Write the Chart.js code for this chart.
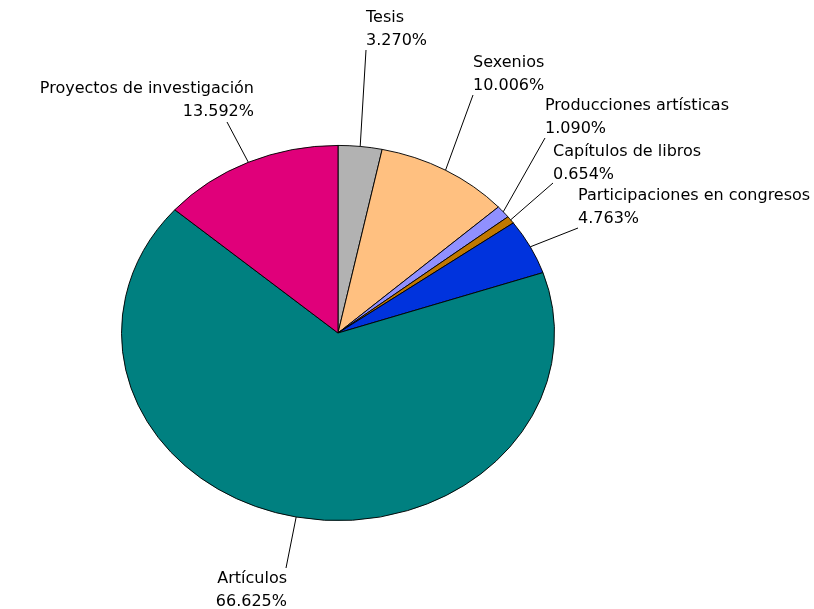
<html>
<head>
  <meta charset="utf-8">
  <title>Producción</title>
  <script src="https://cdn.jsdelivr.net/npm/chart.js@4/dist/chart.umd.min.js"></script>
  <style>
    body{ margin:0; background:#fff; }
  </style>
</head>
<body>
  <canvas id="pie-chart" width="814" height="609"></canvas>
  <script>
    // data, clockwise from 12 o'clock
    var categories = ["Tesis", "Sexenios", "Producciones artísticas", "Capítulos de libros",
                      "Participaciones en congresos", "Artículos", "Proyectos de investigación"];
    var percents = [3.270, 10.006, 1.090, 0.654, 4.763, 66.625, 13.592];
    var colors = ["#b2b2b2", "#ffc080", "#9090ff", "#c07800", "#0033dd", "#008080", "#e0007a"];

    // where each label sits: text x, first line y, align, end of leader line
    var labelPos = [
      [366, 18, 'left', 366, 50],
      [473, 63, 'left', 473, 95],
      [545, 106, 'left', 545, 138],
      [553, 152, 'left', 553, 183],
      [578, 196, 'left', 578, 228],
      [287, 579, 'right', 286, 568],
      [254, 89, 'right', 227, 122]
    ];
    var squash = 188 / 217;  // the pie is an ellipse

    var ellipsePlugin = {
      id: 'ellipse',
      beforeDatasetsDraw: function(chart){
        var arc = chart.getDatasetMeta(0).data[0];
        var ctx = chart.ctx;
        ctx.save();
        ctx.translate(arc.x, arc.y);
        ctx.scale(1, squash);
        ctx.translate(-arc.x, -arc.y);
      },
      afterDatasetsDraw: function(chart){
        var ctx = chart.ctx;
        ctx.restore();
        var arcs = chart.getDatasetMeta(0).data;
        ctx.save();
        ctx.font = '16px "DejaVu Sans"';
        ctx.fillStyle = '#000';
        ctx.strokeStyle = '#000';
        ctx.lineWidth = 1;
        ctx.textBaseline = 'middle';
        for (var i = 0; i < arcs.length; i++){
          var a = arcs[i];
          var mid = (a.startAngle + a.endAngle) / 2;
          var ex = a.x + a.outerRadius * Math.cos(mid);
          var ey = a.y + a.outerRadius * squash * Math.sin(mid);
          var p = labelPos[i];
          ctx.beginPath();
          ctx.moveTo(ex, ey);
          ctx.lineTo(p[3], p[4]);
          ctx.stroke();
          ctx.textAlign = p[2];
          ctx.fillText(categories[i], p[0], p[1]);
          ctx.fillText(percents[i].toFixed(3) + '%', p[0], p[1] + 22.5);
        }
        ctx.restore();
      }
    };

    new Chart(document.getElementById("pie-chart"), {
      type: 'pie',
      data: {
        labels: categories,
        datasets: [{
          data: percents,
          backgroundColor: colors,
          borderColor: '#000',
          borderWidth: 1
        }]
      },
      options: {
        responsive: false,
        animation: false,
        layout: { padding: { left: 121, right: 259, top: 116, bottom: 59 } },
        plugins: {
          legend: { display: false },
          tooltip: { enabled: false }
        },
        events: []
      },
      plugins: [ellipsePlugin]
    });
  </script>
</body>
</html>
